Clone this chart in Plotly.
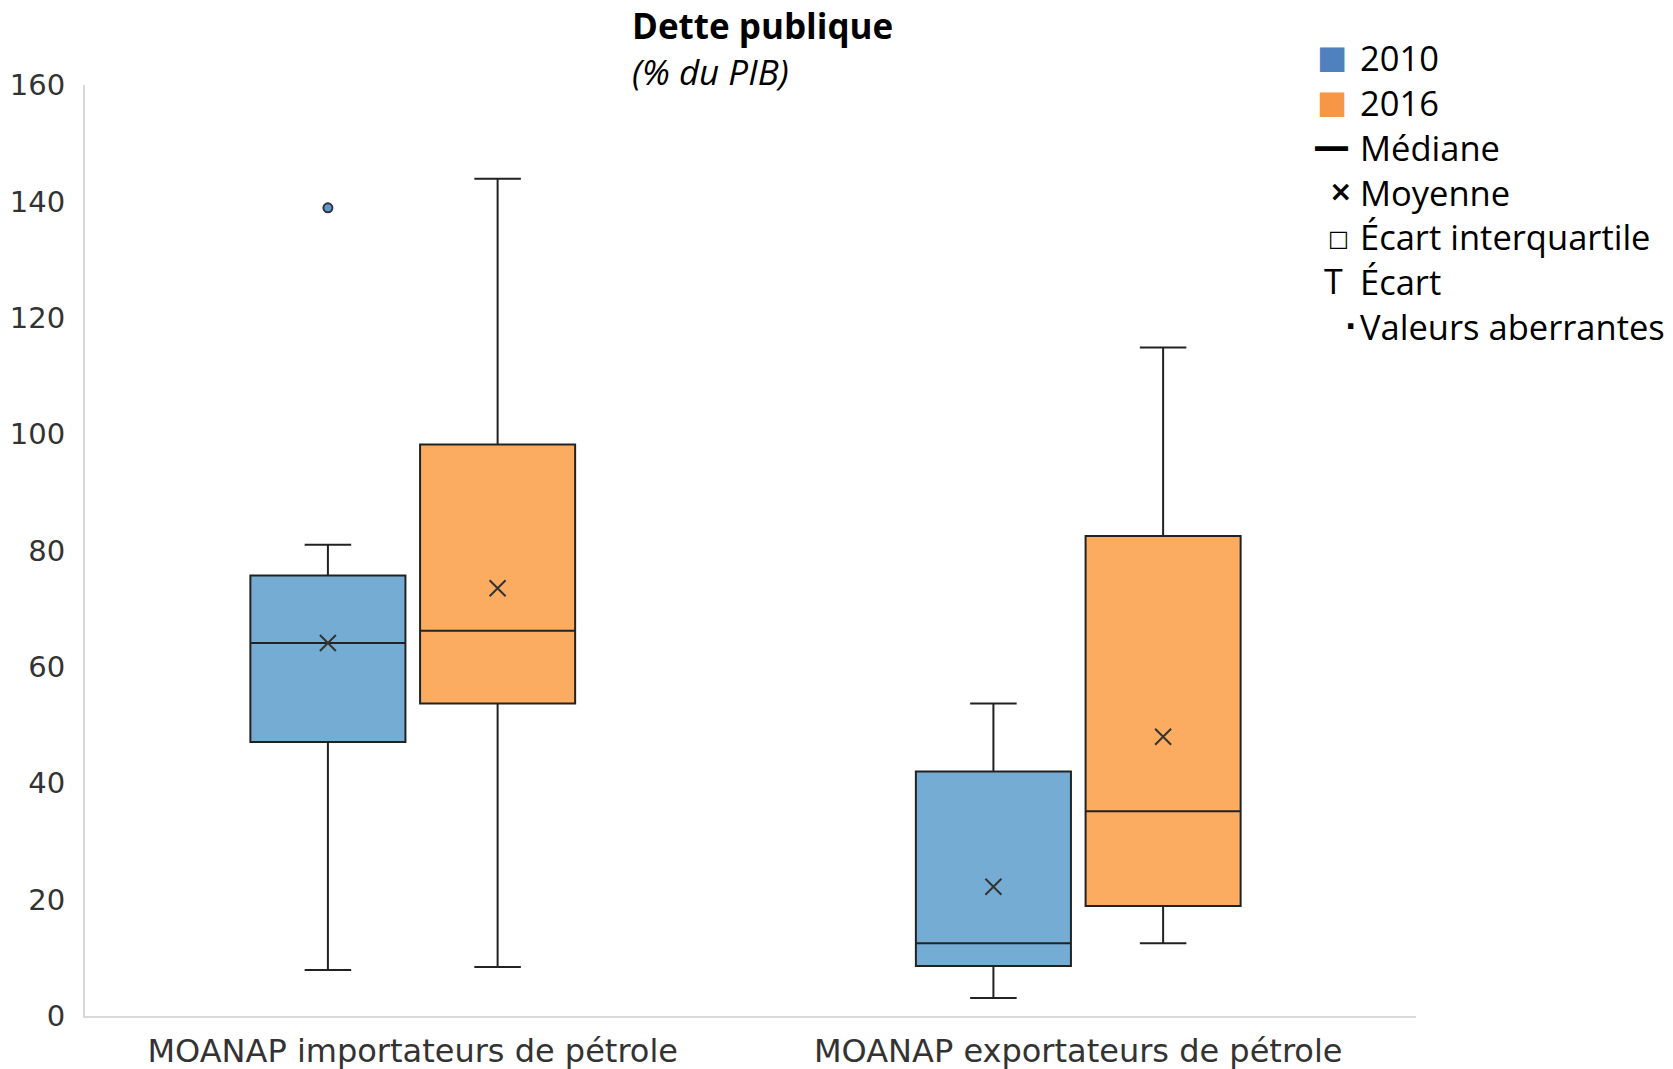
import plotly.graph_objects as go

# ---------------- data ----------------
categories = ["MOANAP importateurs de pétrole", "MOANAP exportateurs de pétrole"]
years = ["2010", "2016"]

q1_2010 = [47.1, 8.6]
median_2010 = [64.1, 12.5]
q3_2010 = [75.7, 42.0]
low_2010 = [7.9, 3.1]
high_2010 = [81.0, 53.7]
mean_2010 = [64.1, 22.2]

q1_2016 = [53.7, 18.9]
median_2016 = [66.2, 35.2]
q3_2016 = [98.2, 82.5]
low_2016 = [8.4, 12.5]
high_2016 = [143.9, 114.9]
mean_2016 = [73.5, 48.0]

outlier_cat_2010 = [0]
outlier_val_2010 = [138.9]

yticks = [0, 20, 40, 60, 80, 100, 120, 140, 160]

legend_labels = ["2010", "2016", "Médiane", "Moyenne", "Écart interquartile",
                 "Écart", "Valeurs aberrantes"]

# ---------------- styling ----------------
W, H = 1673, 1069
ML, MT = 85, 85
PW, PH = 1331, 931
MR = W - ML - PW
MB = H - MT - PH

fill_colors = {"2010": "#75ACD3", "2016": "#FCAC60"}
legend_colors = {"2010": "#4F81BD", "2016": "#F79646"}
offsets = {"2010": -0.1275, "2016": 0.1275}
box_w = 0.233
edge = "#222222"

def px_x(px):
    return (px - ML) / PW

def px_y(py):
    return (MT + PH - py) / PH

fig = go.Figure()

stats = {
    "2010": (q1_2010, median_2010, q3_2010, low_2010, high_2010, mean_2010),
    "2016": (q1_2016, median_2016, q3_2016, low_2016, high_2016, mean_2016),
}

for yr in years:
    q1, med, q3, lo, hi, mn = stats[yr]
    xs = [i + offsets[yr] for i in range(len(categories))]
    fig.add_trace(go.Box(
        x=xs, q1=q1, median=med, q3=q3, lowerfence=lo, upperfence=hi,
        width=box_w, whiskerwidth=0.3, boxpoints=False,
        fillcolor=fill_colors[yr], line=dict(color=edge, width=2),
        name=yr, showlegend=False, hoverinfo="skip",
    ))
    fig.add_trace(go.Scatter(
        x=xs, y=mn, mode="markers",
        marker=dict(symbol="x-thin-open", size=16, color="#333333",
                    line=dict(color="#333333", width=2)),
        showlegend=False, hoverinfo="skip",
    ))

fig.add_trace(go.Scatter(
    x=[c + offsets["2010"] for c in outlier_cat_2010], y=outlier_val_2010,
    mode="markers",
    marker=dict(symbol="circle", size=9, color="#5B9BD5",
                line=dict(color="#333333", width=2)),
    showlegend=False, hoverinfo="skip",
))

fig.update_layout(
    width=W, height=H,
    margin=dict(l=ML, r=MR, t=MT, b=MB, autoexpand=False),
    plot_bgcolor="white", paper_bgcolor="white",
    showlegend=False,
    xaxis=dict(
        range=[-0.4925, 1.5075], tickvals=[0, 1], ticktext=categories,
        showline=True, linecolor="#d9d9d9", linewidth=2,
        showgrid=False, zeroline=False, ticks="", automargin=False,
        ticklabelstandoff=6,
        tickfont=dict(family="DejaVu Sans", size=32, color="#333333"),
    ),
    yaxis=dict(
        range=[0, 160], tickvals=yticks,
        showline=True, linecolor="#d9d9d9", linewidth=2,
        showgrid=False, zeroline=False, ticks="", automargin=False,
        ticklabelstandoff=12,
        tickfont=dict(family="DejaVu Sans", size=29, color="#333333"),
    ),
)

ann = []
# title + subtitle
ann.append(dict(text="<b>Dette publique</b><br><i>(% du PIB)</i>",
                x=px_x(630), y=px_y(48), align="left",
                xref="paper", yref="paper", xanchor="left", yanchor="middle",
                showarrow=False, font=dict(family="Open Sans", size=35, color="black")))

# legend labels (one block)
ann.append(dict(text="<br>".join(legend_labels),
                x=px_x(1358), y=px_y(191.5), align="left",
                xref="paper", yref="paper", xanchor="left", yanchor="middle",
                showarrow=False,
                font=dict(family="Open Sans", size=34.5, color="black")))

# legend symbols
syms = [
    ("■", legend_colors["2010"], 32, "DejaVu Sans", 1315, 57),
    ("■", legend_colors["2016"], 32, "DejaVu Sans", 1315, 102),
    ("<b>—</b>", "black", 37, "DejaVu Sans", 1311, 147),
    ("<b>×</b>", "black", 28, "DejaVu Sans", 1327, 192),
    ("□", "black", 22, "DejaVu Sans", 1326, 238),
    ("T", "black", 34, "Open Sans", 1322, 281),
    ("<b>·</b>", "black", 30, "DejaVu Sans", 1343, 326),
]
for sym, col, ssz, fam, sx, sy in syms:
    ann.append(dict(text=sym, x=px_x(sx), y=px_y(sy), xref="paper", yref="paper",
                    xanchor="left", yanchor="middle", showarrow=False,
                    font=dict(family=fam, size=ssz, color=col)))

fig.update_layout(annotations=ann)

fig.write_html("out.html", config={"displayModeBar": False},
               post_script="document.body.style.margin='0px';")
